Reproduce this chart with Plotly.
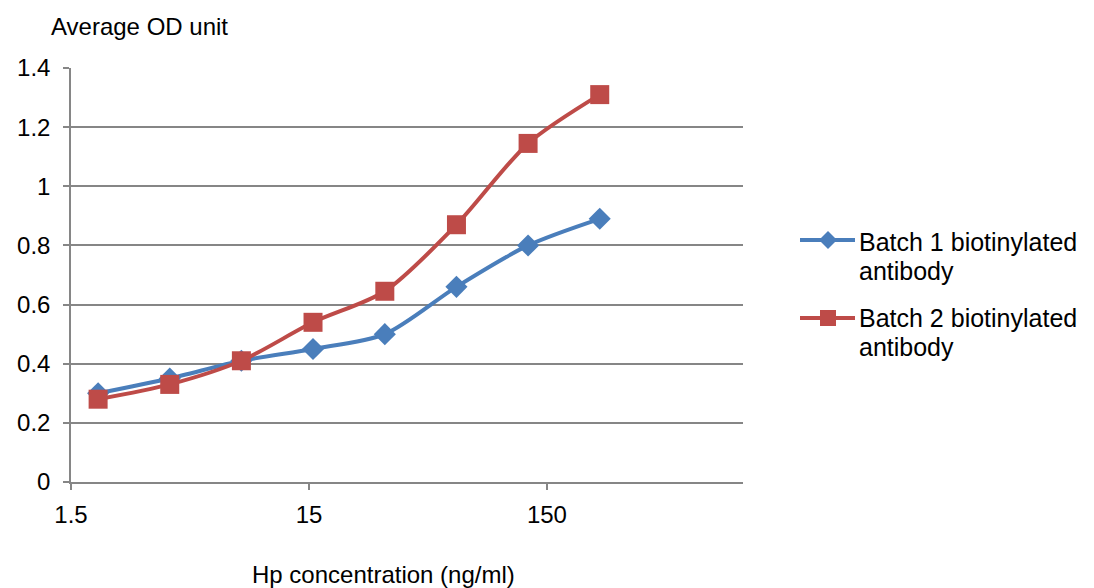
import numpy as np
import plotly.graph_objects as go

conc = [1.95, 3.9, 7.8, 15.6, 31.25, 62.5, 125, 250]
batch1 = [0.30, 0.35, 0.41, 0.45, 0.50, 0.66, 0.80, 0.89]
batch2 = [0.28, 0.33, 0.41, 0.54, 0.645, 0.87, 1.145, 1.31]
series_names = [["Batch 1 biotinylated", "antibody"], ["Batch 2 biotinylated", "antibody"]]
x_tickvals = [1.5, 15, 150]
x_ticktext = ["1.5", "15", "150"]
y_tickvals = [0, 0.2, 0.4, 0.6, 0.8, 1.0, 1.2, 1.4]
y_ticktext = ["0", "0.2", "0.4", "0.6", "0.8", "1", "1.2", "1.4"]

FONT = "Liberation Sans, Arial, sans-serif"
BLUE = "#4A7EBB"
RED = "#BE4B48"
GRID = "#868686"

W, H = 1094, 588
ML, MR, MT, MB = 71, 351, 68, 106
PW, PH = W - ML - MR, H - MT - MB


def px(xp):
    return (xp - ML) / PW


def py(yp):
    return (H - MB - yp) / PH


fig = go.Figure()
fig.add_trace(go.Scatter(
    x=conc, y=batch1, mode="lines+markers", name=" ".join(series_names[0]),
    showlegend=False,
    line=dict(color=BLUE, width=4, shape="spline", smoothing=0.8),
    marker=dict(symbol="diamond", size=17, color=BLUE),
))
fig.add_trace(go.Scatter(
    x=conc, y=batch2, mode="lines+markers", name=" ".join(series_names[1]),
    showlegend=False,
    line=dict(color=RED, width=4, shape="spline", smoothing=0.8),
    marker=dict(symbol="square", size=19, color=RED),
))

# manual legend (Excel-like tight line spacing)
shapes = []
annotations = []
legend_rows = [(240, BLUE, "diamond", [242, 271]), (318, RED, "square", [318, 347])]
for (ly, col, sym, text_ys), lines in zip(legend_rows, series_names):
    shapes.append(dict(type="line", xref="paper", yref="paper",
                       x0=px(800), x1=px(855), y0=py(ly), y1=py(ly),
                       line=dict(color=col, width=4)))
    cx = 828
    if sym == "diamond":
        path = "M {} {} L {} {} L {} {} L {} {} Z".format(
            px(cx - 9), py(ly), px(cx), py(ly - 9), px(cx + 9), py(ly), px(cx), py(ly + 9))
    else:
        path = "M {} {} L {} {} L {} {} L {} {} Z".format(
            px(cx - 8), py(ly - 8), px(cx + 8), py(ly - 8), px(cx + 8), py(ly + 8), px(cx - 8), py(ly + 8))
    shapes.append(dict(type="path", xref="paper", yref="paper", path=path,
                       fillcolor=col, line=dict(color=col, width=0)))
    for t, ty in zip(lines, text_ys):
        annotations.append(dict(text=t, x=px(858), y=py(ty), xref="paper", yref="paper",
                                xanchor="left", yanchor="middle", showarrow=False,
                                borderpad=0, font=dict(size=25)))

annotations += [
    dict(text="Average OD unit", x=px(49), y=py(26), xref="paper", yref="paper",
         xanchor="left", yanchor="middle", showarrow=False, font=dict(size=24)),
    dict(text="Hp concentration (ng/ml)", x=px(383), y=py(574), xref="paper", yref="paper",
         xanchor="center", yanchor="middle", showarrow=False, font=dict(size=24)),
]

fig.update_layout(
    width=W, height=H,
    margin=dict(l=ML, r=MR, t=MT, b=MB),
    paper_bgcolor="white", plot_bgcolor="white",
    font=dict(family=FONT, size=24, color="black"),
    showlegend=False,
    xaxis=dict(type="log", range=[np.log10(1.5), np.log10(1000)],
               tickvals=x_tickvals, ticktext=x_ticktext,
               showgrid=False, showline=True, linecolor=GRID, linewidth=1.5,
               ticks="outside", ticklen=6, tickcolor=GRID, tickwidth=1.5,
               ticklabelstandoff=4, zeroline=False),
    yaxis=dict(range=[0, 1.4], tickvals=y_tickvals, ticktext=y_ticktext,
               showgrid=True, gridcolor=GRID, gridwidth=1.5,
               showline=True, linecolor=GRID, linewidth=1.5,
               ticks="outside", ticklen=6, tickcolor=GRID, tickwidth=1.5,
               ticklabelstandoff=8, zeroline=False),
    shapes=shapes,
    annotations=annotations,
)

fig.write_html("out.html")
